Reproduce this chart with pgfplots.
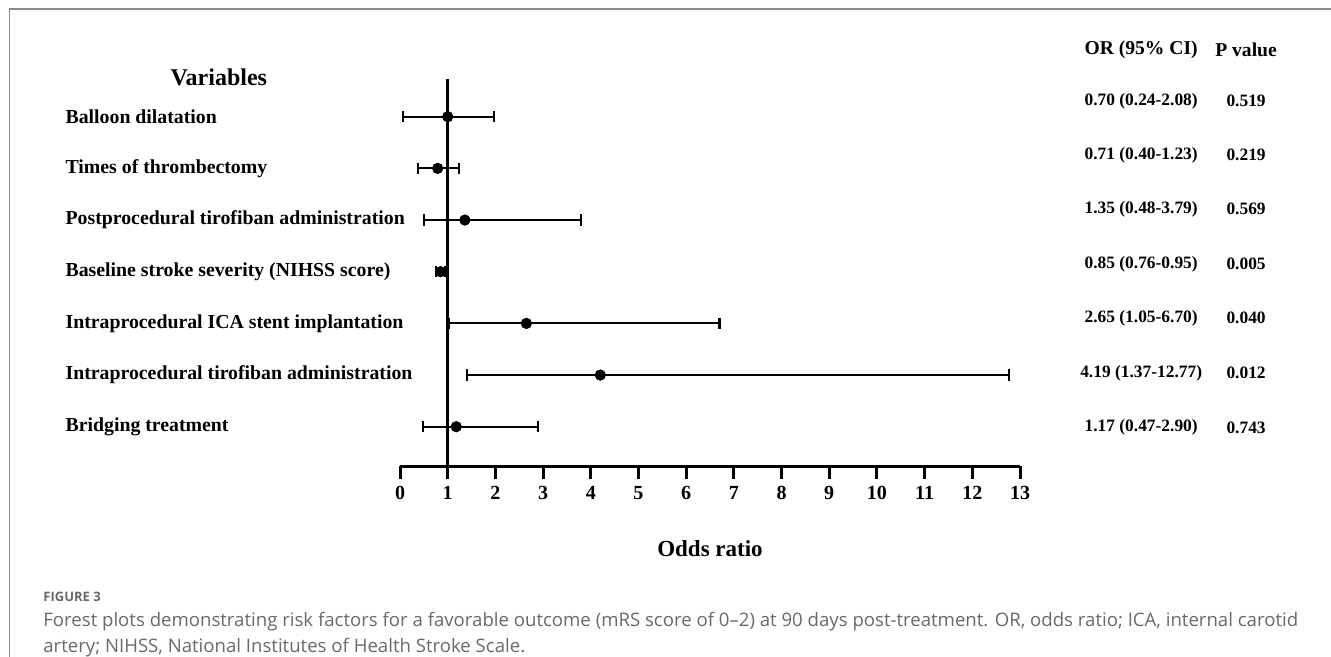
\documentclass[border=0pt]{standalone}
\usepackage{fontspec}
\setmainfont{Liberation Serif}
\newfontfamily\capfont{Open Sans}
\usepackage{pgfplots}
\pgfplotsset{compat=1.18}
\usepackage{pgfplotstable}
\definecolor{capgray}{RGB}{105,105,105}
\definecolor{bordergray}{RGB}{140,140,140}

% y = row, x = plotted OR, lo = minus error, hi = plus error
\pgfplotstableread{
y x lo hi
7 1.00 0.93 0.97
6 0.79 0.41 0.44
5 1.36 0.86 2.44
4 0.85 0.09 0.10
3 2.65 1.62 4.05
2 4.20 2.80 8.57
1 1.18 0.70 1.72
}\datatable

\begin{document}
\begin{tikzpicture}
\path[use as bounding box] (0,0) rectangle (665.5pt,-328.5pt);
% frame lines
\draw[bordergray, line width=0.7pt] (4.6pt,-328.5pt) -- (4.6pt,-4.6pt) -- (665.5pt,-4.6pt);

\begin{axis}[
  at={(200pt,-233pt)}, anchor=south west,
  scale only axis, width=310pt, height=193.5pt,
  xmin=0, xmax=13, ymin=0.24, ymax=7.73,
  axis x line=bottom, axis y line=none,
  x axis line style={line width=1.5pt, -},
  xtick={0,1,...,13}, ytick=\empty,
  tick align=outside, major tick length=6.5pt,
  xtick style={line width=1.5pt, black},
  /pgf/number format/assume math mode=true,
  xticklabel style={font=\bfseries\fontsize{10}{12}\selectfont},
  xlabel={Odds ratio},
  xlabel style={font=\bfseries\fontsize{11.5}{14}\selectfont, yshift=-13.5pt},
  clip=false,
]
\addplot[black, line width=1.6pt] coordinates {(1,0.24) (1,7.73)};
\addplot[black, only marks, mark=*, mark size=2.6pt,
  error bars/.cd, x dir=both, x explicit,
  error bar style={line width=1.1pt},
  error mark options={rotate=90, mark size=2.8pt, line width=1.1pt}]
  table[x=x, y=y, x error plus=hi, x error minus=lo] {\datatable};

\node[font=\bfseries\fontsize{12}{14}\selectfont] at (axis cs:-3.80,7.77) {Variables};
\begin{scope}[every node/.style={anchor=west, font=\bfseries\fontsize{9.9}{12}\selectfont, inner sep=0pt}]
\node at (axis cs:-7.02,7) {Balloon dilatation};
\node at (axis cs:-7.02,6) {Times of thrombectomy};
\node at (axis cs:-7.02,5) {Postprocedural tirofiban administration};
\node at (axis cs:-7.02,4) {Baseline stroke severity (NIHSS score)};
\node at (axis cs:-7.02,3) {Intraprocedural ICA stent implantation};
\node at (axis cs:-7.02,2) {Intraprocedural tirofiban administration};
\node at (axis cs:-7.02,1) {Bridging treatment};
\end{scope}
\begin{scope}[every node/.style={font=\bfseries\fontsize{9.8}{12}\selectfont, inner sep=0pt}]
\node at (axis cs:15.54,8.29) {OR (95\% CI)};
\node at (axis cs:17.74,8.29) {P value};
\end{scope}
\begin{scope}[every node/.style={font=\bfseries\fontsize{8.7}{11}\selectfont, inner sep=0pt}]
\node at (axis cs:15.54,7.30) {0.70 (0.24-2.08)};
\node at (axis cs:15.54,6.26) {0.71 (0.40-1.23)};
\node at (axis cs:15.54,5.21) {1.35 (0.48-3.79)};
\node at (axis cs:15.54,4.15) {0.85 (0.76-0.95)};
\node at (axis cs:15.54,3.10) {2.65 (1.05-6.70)};
\node at (axis cs:15.54,2.04) {4.19 (1.37-12.77)};
\node at (axis cs:15.54,0.98) {1.17 (0.47-2.90)};
\node at (axis cs:17.74,7.30) {0.519};
\node at (axis cs:17.74,6.26) {0.219};
\node at (axis cs:17.74,5.21) {0.569};
\node at (axis cs:17.74,4.15) {0.005};
\node at (axis cs:17.74,3.10) {0.040};
\node at (axis cs:17.74,2.04) {0.012};
\node at (axis cs:17.74,0.98) {0.743};
\end{scope}
\end{axis}

% caption
\node[anchor=west, inner sep=0pt, text=capgray, font=\capfont\bfseries\fontsize{6.5}{8}\selectfont] at (21.5pt,-298.5pt) {FIGURE 3};
\node[anchor=west, inner sep=0pt, text=capgray, font=\capfont\fontsize{9.3}{11}\selectfont] at (21.5pt,-311pt) {Forest plots demonstrating risk factors for a favorable outcome (mRS score of 0–2) at 90 days post-treatment. OR, odds ratio; ICA, internal carotid};
\node[anchor=west, inner sep=0pt, text=capgray, font=\capfont\fontsize{9.3}{11}\selectfont] at (21.5pt,-324pt) {artery; NIHSS, National Institutes of Health Stroke Scale.};
\end{tikzpicture}
\end{document}
